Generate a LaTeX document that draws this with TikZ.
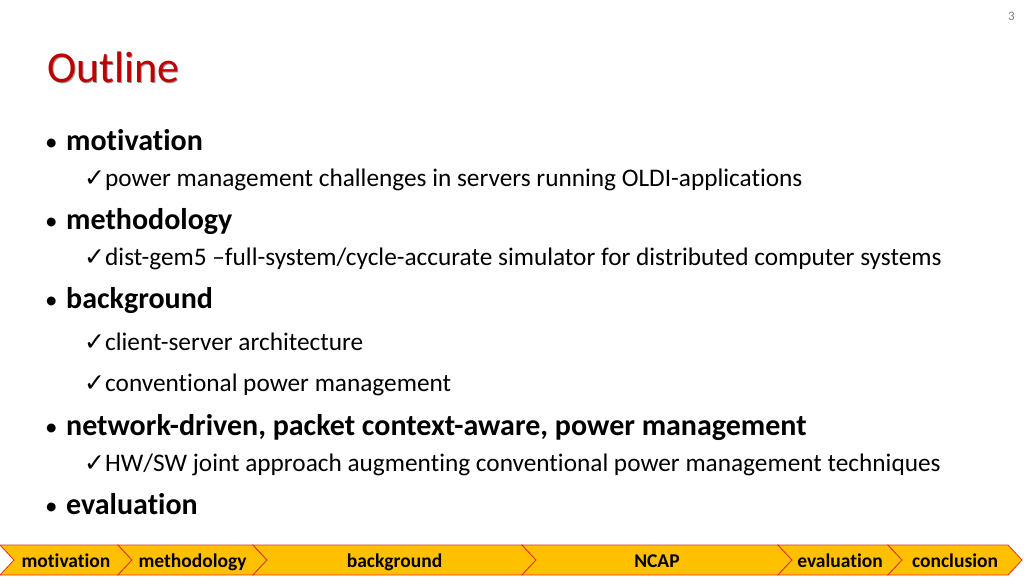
\documentclass[tikz,border=0pt]{standalone}
\usepackage{fontspec}
\setmainfont{Carlito}[RawFeature=-liga]
\newfontfamily\symfont{DejaVu Sans}
\definecolor{titred}{HTML}{C00000}
\definecolor{baryel}{HTML}{FFC000}
\definecolor{barred}{HTML}{E03020}
\begin{document}
\begin{tikzpicture}[x=1pt,y=-1pt,
  txt/.style={anchor=base west,inner sep=0pt},
  main/.style={txt,font=\fontsize{30}{34}\selectfont\bfseries},
  sub/.style={txt,font=\fontsize{25.3}{29}\selectfont},
  chev/.style={fill=baryel,draw=barred,line width=0.8pt},
  lab/.style={anchor=base,inner sep=0pt,font=\fontsize{19.5}{22}\selectfont\bfseries}]
\useasboundingbox (0,0) rectangle (1024,576);
\node[txt,font=\fontsize{13}{15}\selectfont,text=gray] (pg) at (1008,20) {3};
\node[txt,font=\fontsize{44}{50}\selectfont,text=black!40] (tsh) at (48.5,83.5) {Outline};
\node[txt,font=\fontsize{44}{50}\selectfont,text=titred] (title) at (47,82) {Outline};
\foreach \y/\t/\n in {150/motivation/m1,229/methodology/m2,308/background/m3,435/{network-driven, packet context-aware, power management}/m4,514/evaluation/m5}{
  \node[txt,font=\fontsize{25}{29}\selectfont] (b\n) at (45,\y) {•};
  \node[main] (\n) at (66,\y) {\t};
}
\foreach \y/\t/\n in {186/{power management challenges in servers running OLDI-applications}/s1,265/{dist-gem5 –full-system/cycle-accurate simulator for distributed computer systems}/s2,350/{client-server architecture}/s3,391/{conventional power management}/s4,471/{HW/SW joint approach augmenting conventional power management techniques}/s5}{
  \node[txt,font=\fontsize{25}{29}\selectfont\symfont\bfseries] (c\n) at (84,\y) {✓};
  \node[sub] (\n) at (105,\y) {\t};
}
\foreach \a/\b/\t/\n in {0/118/motivation/k1,118/253/methodology/k2,253/522/background/k3,522/778/NCAP/k4,778/888/evaluation/k5,888/1008/conclusion/k6}{
  \draw[chev] (\a,545) -- (\b,545) -- (\b+14,560) -- (\b,575) -- (\a,575) -- (\a+14,560) -- cycle;
  \node[lab] (\n) at ({(\a+\b)/2+7},567) {\t};
}
\end{tikzpicture}
\end{document}
